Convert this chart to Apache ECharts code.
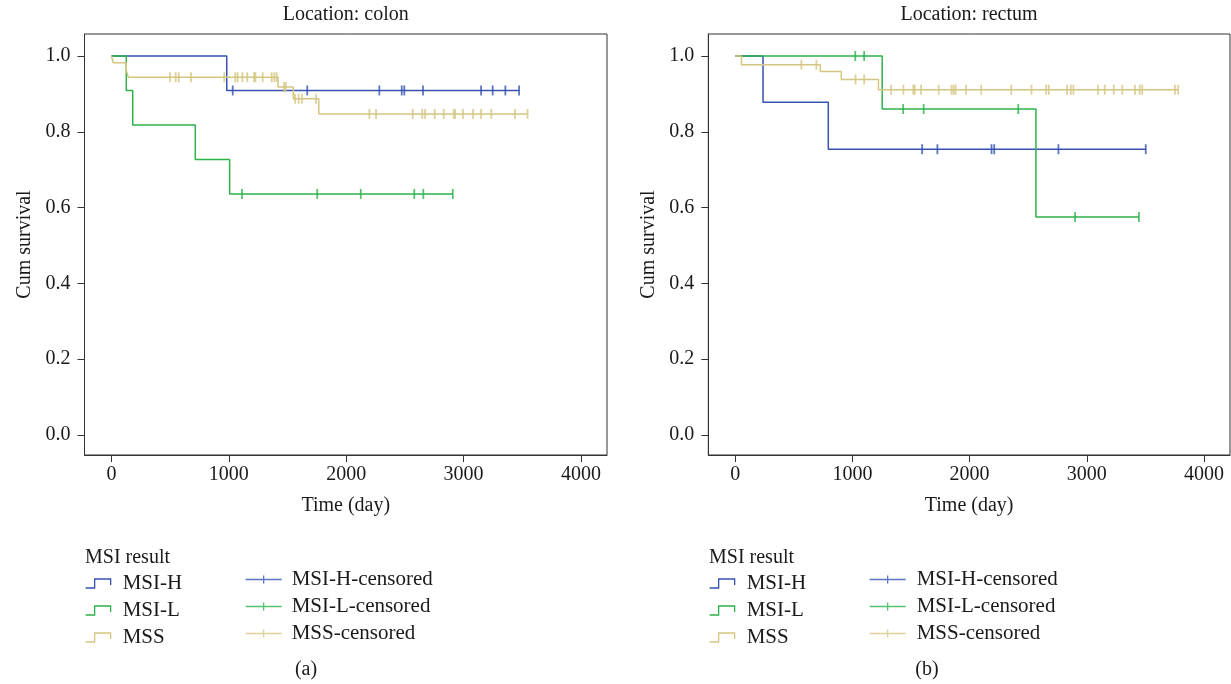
<!DOCTYPE html>
<html><head><meta charset="utf-8">
<script src="https://cdn.jsdelivr.net/npm/echarts@6/dist/echarts.min.js"></script>
<style>html,body{margin:0;padding:0;background:#fff}#c{width:1231px;height:684px}</style>
</head><body><div id="c"></div>
<script>
// ---- tick labels & categories ----
const xTicks = [0, 1000, 2000, 3000, 4000];
const yTicks = [0, 0.2, 0.4, 0.6, 0.8, 1.0];
const groups = ['MSI-H', 'MSI-L', 'MSS'];
const censNames = ['MSI-H-censored', 'MSI-L-censored', 'MSS-censored'];
const panelTitles = ['Location: colon', 'Location: rectum'];
const panelTags = ['(a)', '(b)'];

// ---- colon: step times / cumulative survival / censored times ----
const colonHTime = [0, 982, 3473];
const colonHSurv = [1, 0.909, 0.909];
const colonHCens = [1033, 1668, 2282, 2473, 2495, 2654, 3149, 3248, 3356, 3473];

const colonLTime = [0, 126, 181, 714, 1007, 2908];
const colonLSurv = [1, 0.909, 0.818, 0.727, 0.636, 0.636];
const colonLCens = [1112, 1753, 2124, 2580, 2657, 2908];

const colonSTime = [0, 15, 126, 143, 1419, 1549, 1766, 3545];
const colonSSurv = [1, 0.982, 0.963, 0.944, 0.918, 0.887, 0.847, 0.847];
const colonSCens = [498, 547, 573, 678, 961, 1055, 1075, 1115, 1157, 1215, 1226, 1288, 1365, 1388, 1408,
  1470, 1485, 1564, 1595, 1623, 1743, 2197, 2254, 2567, 2648, 2672, 2754, 2831, 2916, 2927, 2995,
  3081, 3149, 3236, 3438, 3545];

// ---- rectum ----
const rectHTime = [0, 237, 794, 3503];
const rectHSurv = [1, 0.878, 0.754, 0.754];
const rectHCens = [1595, 1725, 2187, 2210, 2758, 3503];

const rectLTime = [0, 1254, 2566, 3445];
const rectLSurv = [1, 0.86, 0.575, 0.575];
const rectLCens = [1024, 1100, 1433, 1608, 2415, 2900, 3445];

const rectSTime = [0, 53, 726, 905, 1222, 3780];
const rectSSurv = [1, 0.977, 0.959, 0.938, 0.911, 0.911];
const rectSCens = [564, 692, 1026, 1100, 1330, 1435, 1520, 1531, 1586, 1736, 1846, 1863, 1880, 1969,
  2099, 2355, 2528, 2653, 2676, 2832, 2863, 2886, 3096, 3153, 3230, 3303, 3411, 3451, 3473, 3752, 3780];

const panels = [
  [[colonHTime, colonHSurv, colonHCens], [colonLTime, colonLSurv, colonLCens], [colonSTime, colonSSurv, colonSCens]],
  [[rectHTime, rectHSurv, rectHCens], [rectLTime, rectLSurv, rectLCens], [rectSTime, rectSSurv, rectSCens]]
];

const colors = ['#3553b0', '#2db34a', '#d4c680'];
const F = 'Liberation Serif';
const TXT = '#1a1a1a';
const AX = '#333';

function stepPairs(t, s) { return t.map((v, i) => [v, s[i]]); }
function censPairs(c, t, s) {
  return c.map(ct => { let v = s[0]; for (let i = 0; i < t.length; i++) { if (t[i] <= ct) v = s[i]; } return [ct, v]; });
}

const gridPos = [{ left: 84.5, width: 522.5 }, { left: 708.3, width: 521.7 }];
const grids = gridPos.map(g => ({ left: g.left, top: 34, width: g.width, height: 421, show: true, borderColor: AX, borderWidth: 1, backgroundColor: 'transparent' }));

const xAxes = [0, 1].map(i => ({
  gridIndex: i, type: 'value', min: -230, max: 4222,
  axisLine: { show: true, onZero: false, lineStyle: { color: AX } },
  axisTick: { show: true, customValues: xTicks, length: 7, lineStyle: { color: AX } },
  axisLabel: { customValues: xTicks, margin: 10, fontFamily: F, fontSize: 20, color: TXT, formatter: v => String(Math.round(v)) },
  splitLine: { show: false },
  name: 'Time (day)', nameLocation: 'middle', nameGap: 41,
  nameTextStyle: { fontFamily: F, fontSize: 20, color: TXT }
}));
const yAxes = [0, 1].map(i => ({
  gridIndex: i, type: 'value', min: -0.053, max: 1.058,
  axisLine: { show: true, onZero: false, lineStyle: { color: AX } },
  axisTick: { show: true, customValues: yTicks, length: 7, lineStyle: { color: AX } },
  axisLabel: { customValues: yTicks, margin: 14, fontFamily: F, fontSize: 20, color: TXT, formatter: v => v.toFixed(1) },
  splitLine: { show: false },
  name: 'Cum survival', nameLocation: 'middle', nameGap: 50, nameRotate: 90,
  nameTextStyle: { fontFamily: F, fontSize: 20, color: TXT }
}));

const series = [];
const order = [2, 0, 1];
[0, 1].forEach(p => {
  order.forEach(g => {
    const [t, s, c] = panels[p][g];
    series.push({
      name: groups[g], type: 'line', step: 'end', xAxisIndex: p, yAxisIndex: p,
      data: stepPairs(t, s), symbol: 'none', silent: true, z: 2 + g,
      lineStyle: { color: colors[g], width: 1.5 }, itemStyle: { color: colors[g] }
    });
  });
  order.forEach(g => {
    const [t, s, c] = panels[p][g];
    series.push({
      name: censNames[g], type: 'scatter', xAxisIndex: p, yAxisIndex: p,
      data: censPairs(c, t, s), symbol: 'rect', symbolSize: [1.8, 10], silent: true, z: 6 + g,
      itemStyle: { color: colors[g] }
    });
  });
});

const stepIcon = 'path://M0,9 L9,9 L9,0 L25,0 L25,6';
const censIcon = 'path://M0,4 L36,4 M18,0 L18,8';
function mkLegend(left, top, names, icon, w, h, pad) {
  return {
    left, top, orient: 'vertical', selectedMode: false, itemWidth: w, itemHeight: h, itemGap: 6, icon,
    padding: 0,
    data: names.map((n, i) => ({ name: n, icon, itemStyle: { color: 'transparent', borderColor: colors[i], borderWidth: 1.3 } })),
    textStyle: { fontFamily: F, fontSize: 21, lineHeight: 20, color: TXT, padding: [0, 0, 0, pad] }
  };
}

const titleStyle = { fontFamily: F, fontSize: 20, fontWeight: 'normal', color: TXT };
const option = {
  animation: false,
  backgroundColor: '#fff',
  title: [
    { text: panelTitles[0], left: 345.7, top: 5, textAlign: 'center', padding: 0, textStyle: titleStyle },
    { text: panelTitles[1], left: 969, top: 5, textAlign: 'center', padding: 0, textStyle: titleStyle },
    { text: 'MSI result', left: 85, top: 548, padding: 0, textStyle: titleStyle },
    { text: 'MSI result', left: 709, top: 548, padding: 0, textStyle: titleStyle },
    { text: panelTags[0], left: 306, top: 660, textAlign: 'center', padding: 0, textStyle: titleStyle },
    { text: panelTags[1], left: 927, top: 660, textAlign: 'center', padding: 0, textStyle: titleStyle }
  ],
  legend: [
    mkLegend(85, 573, groups, stepIcon, 25, 9, 7),
    mkLegend(245, 569, censNames, censIcon, 36, 8, 5),
    mkLegend(709, 573, groups, stepIcon, 25, 9, 7),
    mkLegend(869, 569, censNames, censIcon, 36, 8, 6)
  ],
  grid: grids,
  xAxis: xAxes,
  yAxis: yAxes,
  series
};
const chart = echarts.init(document.getElementById('c'), null, { renderer: 'canvas' });
chart.setOption(option);
</script></body></html>
